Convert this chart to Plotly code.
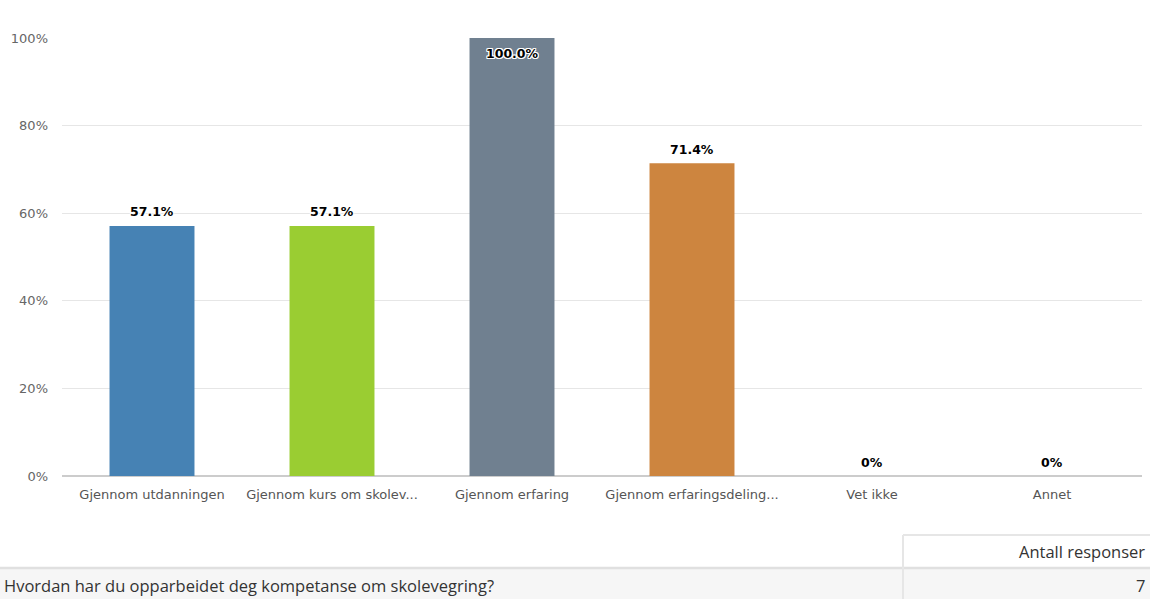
import plotly.graph_objects as go

categories = ["Gjennom utdanningen", "Gjennom kurs om skolev...", "Gjennom erfaring",
              "Gjennom erfaringsdeling...", "Vet ikke", "Annet"]
values = [57.1, 57.1, 100.0, 71.4, 0, 0]
labels = ["57.1%", "57.1%", "100.0%", "71.4%", "0%", "0%"]
colors = ["#4682b4", "#9acd32", "#708090", "#cd853f", "#4682b4", "#9acd32"]
question = "Hvordan har du opparbeidet deg kompetanse om skolevegring?"
col_header = "Antall responser"
responses = [7]

outline = ("-1px -1px 0 #fff, 1px -1px 0 #fff, -1px 1px 0 #fff, 1px 1px 0 #fff,"
           " 0 1px 0 #fff, 0 -1px 0 #fff, 1px 0 0 #fff, -1px 0 0 #fff")

fig = go.Figure()
fig.add_trace(go.Bar(
    x=categories, y=values,
    marker=dict(color=colors, line=dict(width=0)),
    width=0.472,
    hoverinfo="skip",
))

fig.update_layout(
    width=1150, height=599,
    margin=dict(l=62, r=8, t=38, b=123),
    paper_bgcolor="white", plot_bgcolor="white",
    showlegend=False,
    font=dict(family="DejaVu Sans", color="#666666", size=13),
    xaxis=dict(
        showgrid=False, showline=True, linecolor="#cccccc", linewidth=1,
        ticks="", tickfont=dict(size=13, color="#555555"), tickangle=0,
        ticklabelstandoff=6,
        fixedrange=True,
    ),
    yaxis=dict(
        range=[0, 100], tickvals=[0, 20, 40, 60, 80, 100],
        ticktext=["0%", "20%", "40%", "60%", "80%", "100%"],
        showgrid=True, gridcolor="#e6e6e6", gridwidth=1,
        zeroline=True, zerolinecolor="#cccccc",
        ticks="", ticklabelstandoff=13,
        tickfont=dict(size=13, color="#666666"),
        showline=False, fixedrange=True,
    ),
)

# value labels above bars (inside top for the full bar)
annots = []
for c, v, t in zip(categories, values, labels):
    inside = v >= 95
    annots.append(dict(
        x=c, y=v, xref="x", yref="y", text=t, showarrow=False,
        yanchor="middle", yshift=-15 if inside else 14,
        font=dict(family="DejaVu Sans", size=12.5, color="#000000", weight="bold",
                  shadow=outline),
    ))

# Table below chart (paper coordinates via pixel conversion)
H = 599.0
W = 1150.0
plot_h = H - 38 - 123
plot_w = W - 62 - 8

def px_x(x):
    return (x - 62) / plot_w

def px_y(y):
    return (H - 123 - y) / plot_h

shapes = []
shapes.append(dict(type="rect", xref="paper", yref="paper",
                   x0=px_x(0), x1=px_x(1150), y0=px_y(599), y1=px_y(568),
                   fillcolor="#f6f6f6", line=dict(width=0), layer="below"))
shapes.append(dict(type="line", xref="paper", yref="paper",
                   x0=px_x(0), x1=px_x(1150), y0=px_y(568), y1=px_y(568),
                   line=dict(color="#e0e0e0", width=2.5)))
shapes.append(dict(type="line", xref="paper", yref="paper",
                   x0=px_x(903), x1=px_x(1150), y0=px_y(535), y1=px_y(535),
                   line=dict(color="#e6e6e6", width=2)))
shapes.append(dict(type="line", xref="paper", yref="paper",
                   x0=px_x(903), x1=px_x(903), y0=px_y(535), y1=px_y(599),
                   line=dict(color="#e6e6e6", width=2)))
fig.update_layout(shapes=shapes)

tfont = dict(family="Open Sans", size=16.5, color="#333333")
annots += [
    dict(text=col_header, xref="paper", yref="paper", x=px_x(1147), y=px_y(551),
         xanchor="right", yanchor="middle", showarrow=False, font=tfont),
    dict(text=question, xref="paper", yref="paper", x=px_x(2), y=px_y(585),
         xanchor="left", yanchor="middle", showarrow=False, font=tfont),
    dict(text=str(responses[0]), xref="paper", yref="paper", x=px_x(1147), y=px_y(585),
         xanchor="right", yanchor="middle", showarrow=False, font=tfont),
]
fig.update_layout(annotations=annots)

fig.write_html("out.html")
